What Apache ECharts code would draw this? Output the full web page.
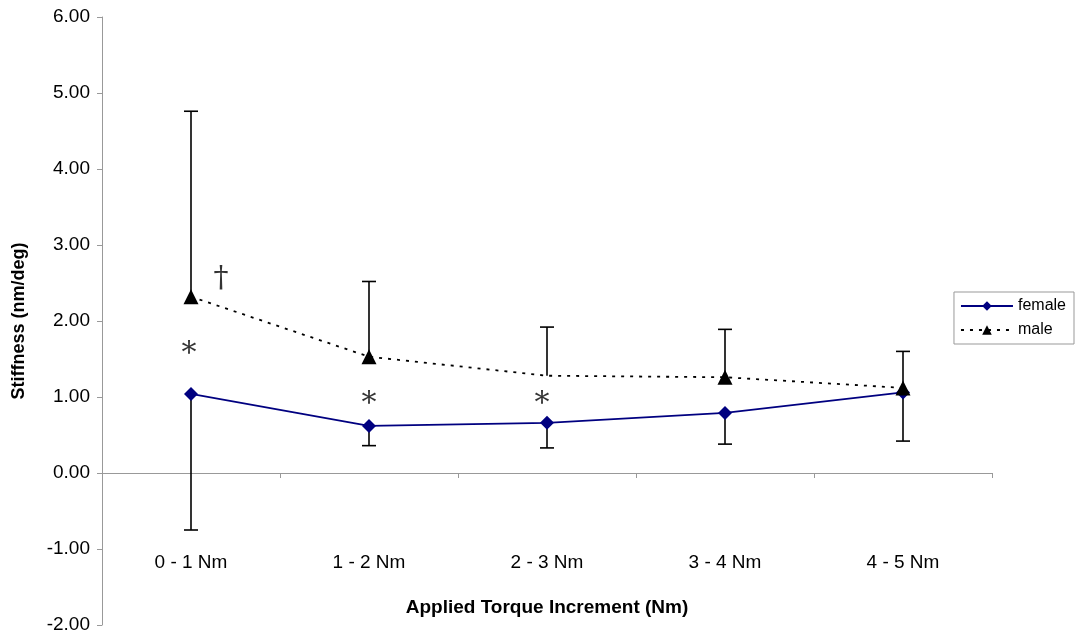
<!DOCTYPE html>
<html>
<head>
<meta charset="utf-8">
<script src="https://cdn.jsdelivr.net/npm/echarts@6/dist/echarts.min.js"></script>
<style>html,body{margin:0;padding:0;background:#fff}#c{width:1076px;height:639px}</style>
</head>
<body>
<div id="c"></div>
<script>
var categories = ['0 - 1 Nm', '1 - 2 Nm', '2 - 3 Nm', '3 - 4 Nm', '4 - 5 Nm'];
var female = [1.04, 0.62, 0.66, 0.79, 1.06];
var male = [2.32, 1.53, 1.28, 1.26, 1.12];
var femaleLow = [-0.75, 0.36, 0.33, 0.38, 0.42];
var maleHigh = [4.76, 2.52, 1.92, 1.89, 1.60];
var maleHidden = [false, false, true, false, false];
var annotations = [
  {cat: 0, y: 1.64, text: '*', dx: -2},
  {cat: 1, y: 0.98, text: '*', dx: 0},
  {cat: 2, y: 0.98, text: '*', dx: -5},
  {cat: 0, y: 2.55, text: '\u2020', dx: 30}
];

var FONT = '"Liberation Sans", Arial, sans-serif';
var chart = echarts.init(document.getElementById('c'), null, {renderer: 'canvas'});

function errBar() {
  return function (params, api) {
    var i = api.value(0);
    var p1 = api.coord([i, api.value(1)]);
    var p2 = api.coord([i, api.value(2)]);
    var w = 7;
    var st = {stroke: '#000', lineWidth: 1.6};
    return {
      type: 'group',
      children: [
        {type: 'line', shape: {x1: p1[0], y1: p1[1], x2: p2[0], y2: p2[1]}, style: st},
        {type: 'line', shape: {x1: p2[0] - w, y1: p2[1], x2: p2[0] + w, y2: p2[1]}, style: st}
      ]
    };
  };
}

var femaleErr = female.map(function (v, i) { return [i, v, femaleLow[i]]; });
var maleErr = male.map(function (v, i) { return [i, v, maleHigh[i]]; });

chart.setOption({
  animation: false,
  backgroundColor: '#fff',
  grid: {left: 102, right: 84, top: 17, bottom: 14, containLabel: false, outerBoundsMode: 'none'},
  legend: {
    orient: 'vertical',
    right: 2,
    top: 292,
    data: ['female', 'male'],
    itemWidth: 52,
    itemHeight: 12,
    itemGap: 8,
    padding: [6, 8, 6, 6],
    borderColor: '#999',
    borderWidth: 1,
    textStyle: {fontFamily: FONT, fontSize: 16, color: '#000'}
  },
  xAxis: {
    type: 'category',
    data: categories,
    boundaryGap: true,
    axisLine: {onZero: true, lineStyle: {color: '#999', width: 1}},
    axisTick: {show: true, length: 5, lineStyle: {color: '#999'}},
    axisLabel: {margin: -72, fontFamily: FONT, fontSize: 19, color: '#000'},
    splitLine: {show: false},
    name: 'Applied Torque Increment (Nm)',
    nameLocation: 'middle',
    nameGap: -27,
    nameTextStyle: {fontFamily: FONT, fontSize: 19, fontWeight: 'bold', color: '#000'}
  },
  yAxis: {
    type: 'value',
    min: -2,
    max: 6,
    interval: 1,
    axisLine: {show: true, onZero: false, lineStyle: {color: '#999', width: 1}},
    axisTick: {show: true, length: 5, lineStyle: {color: '#999'}},
    axisLabel: {margin: 12, fontFamily: FONT, fontSize: 19, color: '#000',
      formatter: function (v) { return v.toFixed(2); }},
    splitLine: {show: false},
    name: 'Stiffness (nm/deg)',
    nameLocation: 'middle',
    nameGap: 74,
    nameTextStyle: {fontFamily: FONT, fontSize: 18, fontWeight: 'bold', color: '#000'}
  },
  series: [
    {
      name: 'femaleErr', type: 'custom', data: femaleErr, z: 1,
      renderItem: errBar(), encode: {x: 0, y: [1, 2]}, silent: true
    },
    {
      name: 'maleErr', type: 'custom', data: maleErr, z: 1,
      renderItem: errBar(), encode: {x: 0, y: [1, 2]}, silent: true
    },
    {
      name: 'female', type: 'line', data: female, z: 3,
      symbol: 'diamond', symbolSize: 14, showSymbol: true,
      itemStyle: {color: '#000080'},
      lineStyle: {color: '#000080', width: 1.8}
    },
    {
      name: 'male', type: 'line', z: 3,
      data: male.map(function (v, i) { return maleHidden[i] ? {value: v, symbol: 'none'} : v; }),
      symbol: 'triangle', symbolSize: 15, showSymbol: true,
      itemStyle: {color: '#000'},
      lineStyle: {color: '#000', width: 1.8, type: [3, 6]}
    },
    {
      name: 'notes', type: 'scatter', z: 4, symbolSize: 0, silent: true,
      data: annotations.map(function (a) {
        return {value: [a.cat, a.y], name: a.text,
          label: {offset: [a.dx, a.text === '*' ? 6 : 0]}};
      }),
      label: {show: true, position: 'inside', formatter: '{b}', fontFamily: '"DejaVu Serif", serif',
        fontSize: 30, color: '#000'}
    }
  ]
});
</script>
</body>
</html>
